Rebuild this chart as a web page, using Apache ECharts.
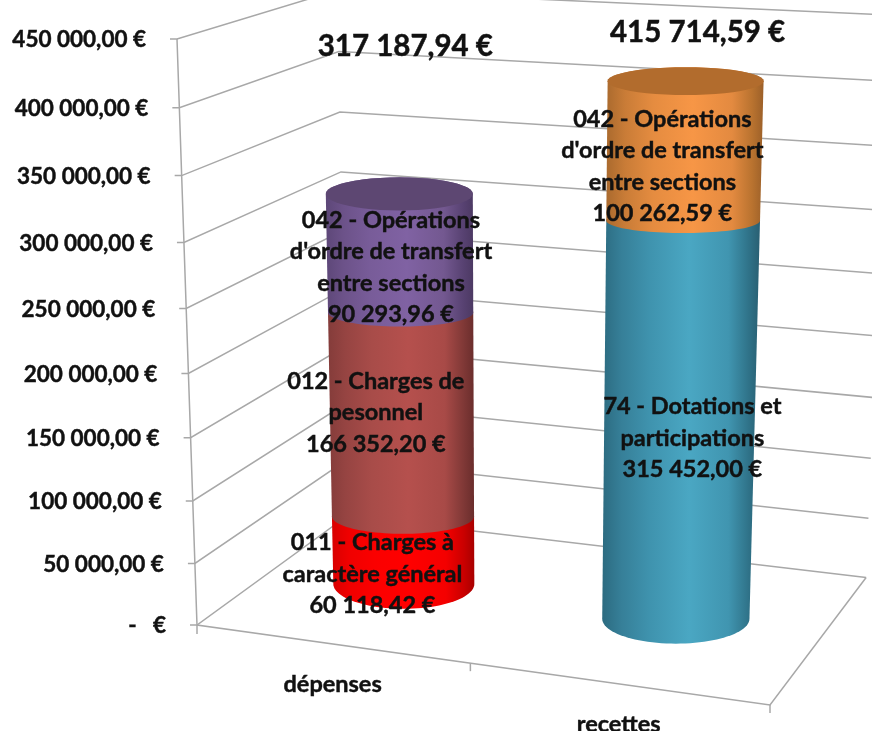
<!DOCTYPE html>
<html><head><meta charset="utf-8">
<style>html,body{margin:0;padding:0;background:#fff}#c{width:872px;height:731px}</style>
<script src="https://cdn.jsdelivr.net/npm/echarts@6/dist/echarts.min.js"></script>
</head><body><div id="c"></div>
<script>
const categories = ['dépenses', 'recettes'];
const valueTicks = [0, 50000, 100000, 150000, 200000, 250000, 300000, 350000, 400000, 450000];
const tickLabels = ['-   €', '50 000,00 €', '100 000,00 €', '150 000,00 €', '200 000,00 €', '250 000,00 €', '300 000,00 €', '350 000,00 €', '400 000,00 €', '450 000,00 €'];
const depensesValues = [60118.42, 166352.20, 90293.96];
const depensesNames = ['011 - Charges à\ncaractère général', '012 - Charges de\npesonnel', "042 - Opérations\nd'ordre de transfert\nentre sections"];
const depensesValueText = ['60 118,42 €', '166 352,20 €', '90 293,96 €'];
const recettesValues = [315452.00, 100262.59];
const recettesNames = ['74 - Dotations et\nparticipations', "042 - Opérations\nd'ordre de transfert\nentre sections"];
const recettesValueText = ['315 452,00 €', '100 262,59 €'];
const totals = [317187.94, 415714.59];
const totalText = ['317 187,94 €', '415 714,59 €'];

const W = 872, H = 731, FONT = 'Lato, "Open Sans", sans-serif';
const A = [197, 625], E = [770, 705], B = [177, 39], C = [347, 516], wx = .9124, wy = .94, wz = 1.12;
function depth(X, Y, Z) { return 1 + X * (wx - 1) + Y * (wy - 1) + Z * (wz - 1); }
function project(X, Y, Z) {
  const h = [0, 1].map(i => A[i] + X * (wx * E[i] - A[i]) + Y * (wy * B[i] - A[i]) + Z * (wz * C[i] - A[i]));
  const w = depth(X, Y, Z);
  return [h[0] / w, h[1] / w + 7 * X * Y];
}
const toX = p => p[0] / W, toY = p => (H - p[1]) / H;
const LINE = '#a8a8a8', INK = '#111';
const textStyle = (size, extra) => Object.assign({textVerticalAlign: 'middle', fill: INK, stroke: INK, lineWidth: .45, font: 'bold ' + size + 'px ' + FONT}, extra);

const chart = echarts.init(document.getElementById('c'), null, {renderer: 'canvas'});

function lineEl(pts, w) {
  return {type: 'polyline', shape: {points: pts}, style: {stroke: LINE, lineWidth: w || 1.5, fill: null}, silent: true};
}
const wallSeries = {
  type: 'custom', z: 1, clip: false, silent: true,
  data: valueTicks.map(v => [0, v]),
  renderItem(params, api) {
    const Y = toY(api.coord([0, api.value(1)]));
    const front = project(0, Y, 0);
    return {type: 'group', children: [
      lineEl([[front[0] - 7, front[1]], front, project(0, Y, 1), project(1, Y, 1)]),
      {type: 'text', silent: true, style: textStyle(22.5, {text: tickLabels[params.dataIndex], x: front[0] - 31, y: front[1] + 1, textAlign: 'right'})}
    ]};
  }
};
const frameSeries = {
  type: 'custom', z: 1, clip: false, silent: true,
  data: [[0, 0]],
  renderItem() {
    const a = project(0, 0, 0), e = project(1, 0, 0), m = project(.5, 0, 0), f = project(1, 0, 1), t = project(0, 1, 0);
    return {type: 'group', children: [
      lineEl([t, a, e, f]),
      lineEl([a, [a[0], a[1] + 9]]),
      lineEl([m, [m[0], m[1] + 8]]),
      lineEl([e, [e[0], e[1] + 8]])
    ]};
  }
};
const catLabelSeries = {
  type: 'custom', z: 4, clip: false, silent: true,
  data: categories.map((c, i) => [i, 0]),
  renderItem(params, api) {
    const X = toX(api.coord([api.value(0), 0]));
    const p = project(X, 0, 0);
    return {type: 'text', silent: true, style: textStyle(23.5, {text: categories[params.dataIndex], x: p[0] + 2, y: p[1] + 41, textAlign: 'center'})};
  }
};

function ellipseAt(X, Y, level) {
  const c = project(X, Y, .5);
  const rx = 73.2 / depth(X, Y, .5);
  let ry = 25 - 12 * Y, cy = c[1];
  if (level === 'mid') { cy += 4; ry *= .75; }
  return {cx: c[0], cy, rx, ry};
}
function arc(e, from, to) {
  const pts = [];
  for (let i = 0; i <= 48; i++) {
    const t = from + (to - from) * i / 48;
    pts.push([e.cx + e.rx * Math.cos(t), e.cy + e.ry * Math.sin(t)]);
  }
  return pts;
}
const grad = s => new echarts.graphic.LinearGradient(0, 0, 1, 0, s.map((c, i) => ({offset: [0, .12, .3, .55, .8, .93, 1][i], color: c})));
const palette = {
  red:    {side: ['#d80000', '#f00000', '#fb0000', '#ff0000', '#f40000', '#c80000', '#a80000']},
  brown:  {side: ['#843c3a', '#964442', '#a84c49', '#b5504d', '#a84a47', '#7f3836', '#6a2d2c']},
  purple: {side: ['#5d4778', '#6c5289', '#785c99', '#8062a3', '#735890', '#584272', '#4c3963'], cap: '#5d4772'},
  teal:   {side: ['#2c6b80', '#367f98', '#3f93ae', '#4aa7c3', '#4095b0', '#2f7288', '#295f72']},
  orange: {side: ['#aa6a2e', '#c97c37', '#e58c40', '#f79646', '#e38a40', '#b8722f', '#9c6029'], cap: '#b26c2d'}
};
function cylinderSeries(catIndex, start, end, pal, isFirst, isLast) {
  return {
    type: 'custom', z: 2, clip: false, silent: true,
    data: [[catIndex, start, end]],
    renderItem(params, api) {
      const p0 = api.coord([api.value(0), api.value(1)]), p1 = api.coord([api.value(0), api.value(2)]);
      const X = toX(p0), Y0 = toY(p0), Y1 = toY(p1);
      const e0 = ellipseAt(X, Y0, isFirst ? 'end' : 'mid'), e1 = ellipseAt(X, Y1, isLast ? 'end' : 'mid');
      const pts = arc(e0, 0, Math.PI).concat(arc(e1, Math.PI, 2 * Math.PI));
      const kids = [{type: 'polygon', silent: true, shape: {points: pts}, style: {fill: grad(pal.side)}}];
      if (isLast) kids.push({type: 'polygon', silent: true, shape: {points: arc(e1, 0, 2 * Math.PI)}, style: {fill: pal.cap}});
      return {type: 'group', children: kids};
    }
  };
}
function labelSeries(catIndex, start, end, text, dx, dy) {
  return {
    type: 'custom', z: 5, clip: false, silent: true,
    data: [[catIndex, (start + end) / 2]],
    renderItem(params, api) {
      const q = api.coord([api.value(0), api.value(1)]);
      const p = project(toX(q), toY(q), .5);
      return {type: 'text', silent: true, style: textStyle(23.5, {text, x: p[0] + dx, y: p[1] + dy, textAlign: 'center', lineHeight: 31.5})};
    }
  };
}
const totalSeries = {
  type: 'custom', z: 5, clip: false, silent: true,
  data: totals.map((v, i) => [i, v]),
  renderItem(params, api) {
    const q = api.coord([api.value(0), api.value(1)]);
    const p = project(toX(q), toY(q), .5);
    return {type: 'text', silent: true, style: textStyle(29.5, {text: totalText[params.dataIndex], x: p[0] + (params.dataIndex ? 12 : 6), y: p[1] - (params.dataIndex ? 49 : 147), textAlign: 'center'})};
  }
};

const series = [wallSeries, frameSeries, catLabelSeries, totalSeries];
const depPal = [palette.red, palette.brown, palette.purple];
const depOff = [[-31, 26], [-26, 1], [-9, 16]];
let acc = 0;
depensesValues.forEach((v, i) => {
  series.push(cylinderSeries(0, acc, acc + v, depPal[i], i === 0, i === depensesValues.length - 1));
  series.push(labelSeries(0, acc, acc + v, depensesNames[i] + '\n' + depensesValueText[i], depOff[i][0], depOff[i][1]));
  acc += v;
});
const recPal = [palette.teal, palette.orange];
const recOff = [[13, 16], [-22, 17]];
acc = 0;
recettesValues.forEach((v, i) => {
  series.push(cylinderSeries(1, acc, acc + v, recPal[i], i === 0, i === recettesValues.length - 1));
  series.push(labelSeries(1, acc, acc + v, recettesNames[i] + '\n' + recettesValueText[i], recOff[i][0], recOff[i][1]));
  acc += v;
});

chart.setOption({
  animation: false,
  backgroundColor: '#fff',
  grid: {left: 0, top: 0, width: W, height: H, containLabel: false},
  xAxis: {type: 'category', data: categories, axisLine: {show: false}, axisTick: {show: false}, axisLabel: {show: false}, splitLine: {show: false}},
  yAxis: {type: 'value', min: 0, max: 450000, interval: 50000, axisLine: {show: false}, axisTick: {show: false}, axisLabel: {show: false}, splitLine: {show: false}},
  series
});
</script></body></html>
